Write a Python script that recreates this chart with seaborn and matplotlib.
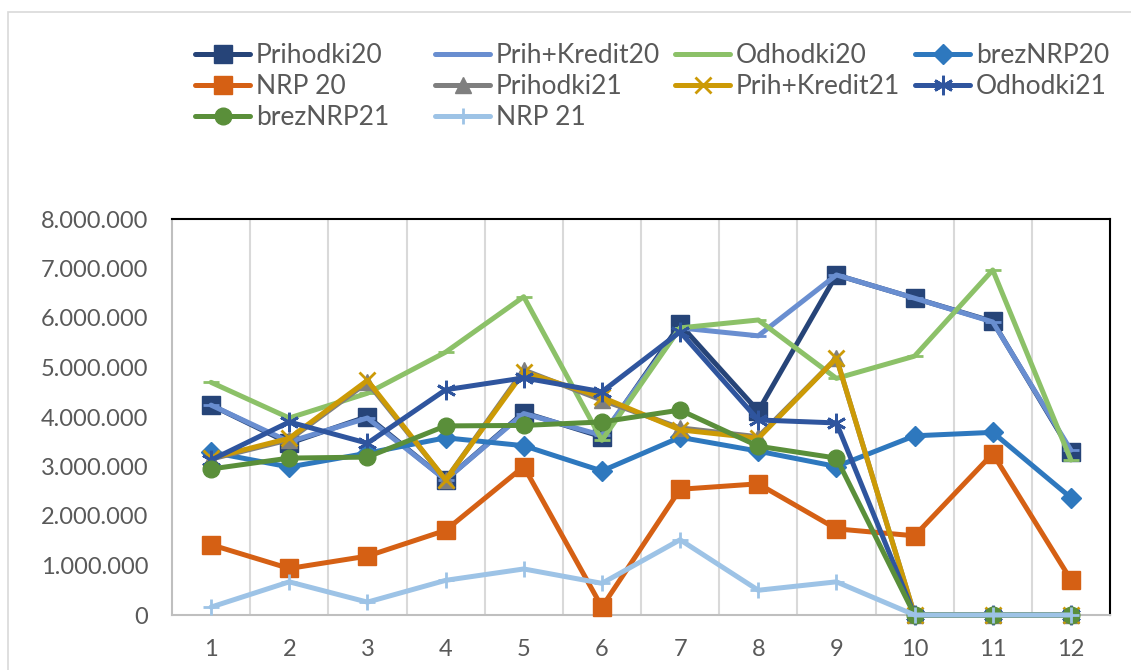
import matplotlib
matplotlib.use("Agg")
import matplotlib.pyplot as plt
import seaborn as sns
import pandas as pd
from matplotlib.ticker import FuncFormatter, FixedLocator
from matplotlib.patches import Rectangle

# month index on the x axis
months = list(range(1, 13))

# values
prihodki20 = [4240000, 3470000, 4010000, 2730000, 4090000, 3600000, 5870000, 4120000, 6870000, 6400000, 5930000, 3300000]
prih_kredit20 = [4240000, 3500000, 3980000, 2730000, 4070000, 3630000, 5800000, 5640000, 6870000, 6400000, 5920000, 3330000]
odhodki20 = [4700000, 3980000, 4480000, 5310000, 6430000, 3530000, 5800000, 5960000, 4780000, 5230000, 6970000, 3130000]
breznrp20 = [3290000, 2990000, 3270000, 3580000, 3420000, 2910000, 3590000, 3310000, 3000000, 3620000, 3690000, 2370000]
nrp20 = [1420000, 940000, 1190000, 1710000, 3000000, 160000, 2540000, 2650000, 1740000, 1600000, 3260000, 710000]
prihodki21 = [3150000, 3540000, 4700000, 2730000, 4950000, 4340000, 3780000, 3600000, 5190000, 0, 0, 0]
prih_kredit21 = [3170000, 3570000, 4740000, 2730000, 4910000, 4400000, 3740000, 3570000, 5190000, 0, 0, 0]
odhodki21 = [3130000, 3900000, 3470000, 4550000, 4790000, 4510000, 5720000, 3940000, 3880000, 0, 0, 0]
breznrp21 = [2950000, 3170000, 3190000, 3820000, 3830000, 3900000, 4140000, 3410000, 3170000, 0, 0, 0]
nrp21 = [160000, 670000, 260000, 700000, 930000, 640000, 1520000, 500000, 670000, 0, 0, 0]

series = [
    ("Prihodki20", prihodki20, "#264478", "s", 13),
    ("Prih+Kredit20", prih_kredit20, "#698ED0", "_", 12),
    ("Odhodki20", odhodki20, "#8CC168", "_", 12),
    ("brezNRP20", breznrp20, "#2E78BE", "D", 10),
    ("NRP 20", nrp20, "#D56014", "s", 13),
    ("Prihodki21", prihodki21, "#7F7F7F", "^", 12),
    ("Prih+Kredit21", prih_kredit21, "#CC9A06", "x", 12),
    ("Odhodki21", odhodki21, "#2F559E", (6, 2, 0), 14),
    ("brezNRP21", breznrp21, "#5A8F3A", "o", 12),
    ("NRP 21", nrp21, "#9DC3E6", "+", 12),
]

sns.set_style("white")
plt.rcParams["font.family"] = ["Lato", "DejaVu Sans"]

fig = plt.figure(figsize=(11.31, 6.70), dpi=100)
ax = fig.add_axes([172 / 1131, 55 / 670, 938 / 1131, 396 / 670])

for name, vals, col, mk, ms in series:
    df = pd.DataFrame({"month": months, "value": vals})
    thin = mk in ("_", "x", "+", (6, 2, 0))
    sns.lineplot(data=df, x="month", y="value", ax=ax, color=col, lw=3.6,
                 marker=mk, markersize=ms, markeredgecolor=col,
                 markeredgewidth=2.0 if thin else 1, label=name, zorder=3, clip_on=False)

ax.set_xlim(0.5, 12.5)
ax.set_ylim(0, 8000000)
ax.xaxis.set_major_locator(FixedLocator(months))
ax.xaxis.set_minor_locator(FixedLocator([m + 0.5 for m in months[:-1]]))
ax.yaxis.set_major_locator(FixedLocator(range(0, 8000001, 1000000)))
ax.yaxis.set_major_formatter(FuncFormatter(lambda v, p: f"{int(v):,}".replace(",", ".")))
ax.grid(False)
ax.grid(True, which="minor", axis="x", color="#D9D9D9", lw=1.5, zorder=0)
ax.tick_params(axis="both", which="both", length=0, labelsize=17, colors="#595959")
ax.tick_params(axis="x", pad=17)
ax.tick_params(axis="y", pad=17)
ax.set_xlabel("")
ax.set_ylabel("")

for s in ["top", "right"]:
    ax.spines[s].set_color("black")
    ax.spines[s].set_linewidth(1.5)
for s in ["left", "bottom"]:
    ax.spines[s].set_color("#BFBFBF")
    ax.spines[s].set_linewidth(1.5)

handles, labels = ax.get_legend_handles_labels()
ax.get_legend().remove()
# Excel legend: 4 equal-width columns filled row by row -> one legend per column
for c in range(4):
    idx = list(range(c, len(labels), 4))
    fig.legend([handles[i] for i in idx], [labels[i] for i in idx],
               loc="upper left", bbox_to_anchor=((195 + 240 * c) / 1131, 1 - 43 / 670),
               ncol=1, frameon=False, fontsize=19, handlelength=2.1, handletextpad=0.2,
               labelspacing=0.23, borderpad=0, borderaxespad=0, labelcolor="#595959")

# outer chart border
fig.add_artist(Rectangle((8 / 1131, -0.05), 1.1, 1 - 12 / 670 + 0.05, transform=fig.transFigure,
                         fill=False, edgecolor="#D9D9D9", lw=1.2))

fig.savefig("out.png", dpi=100)
